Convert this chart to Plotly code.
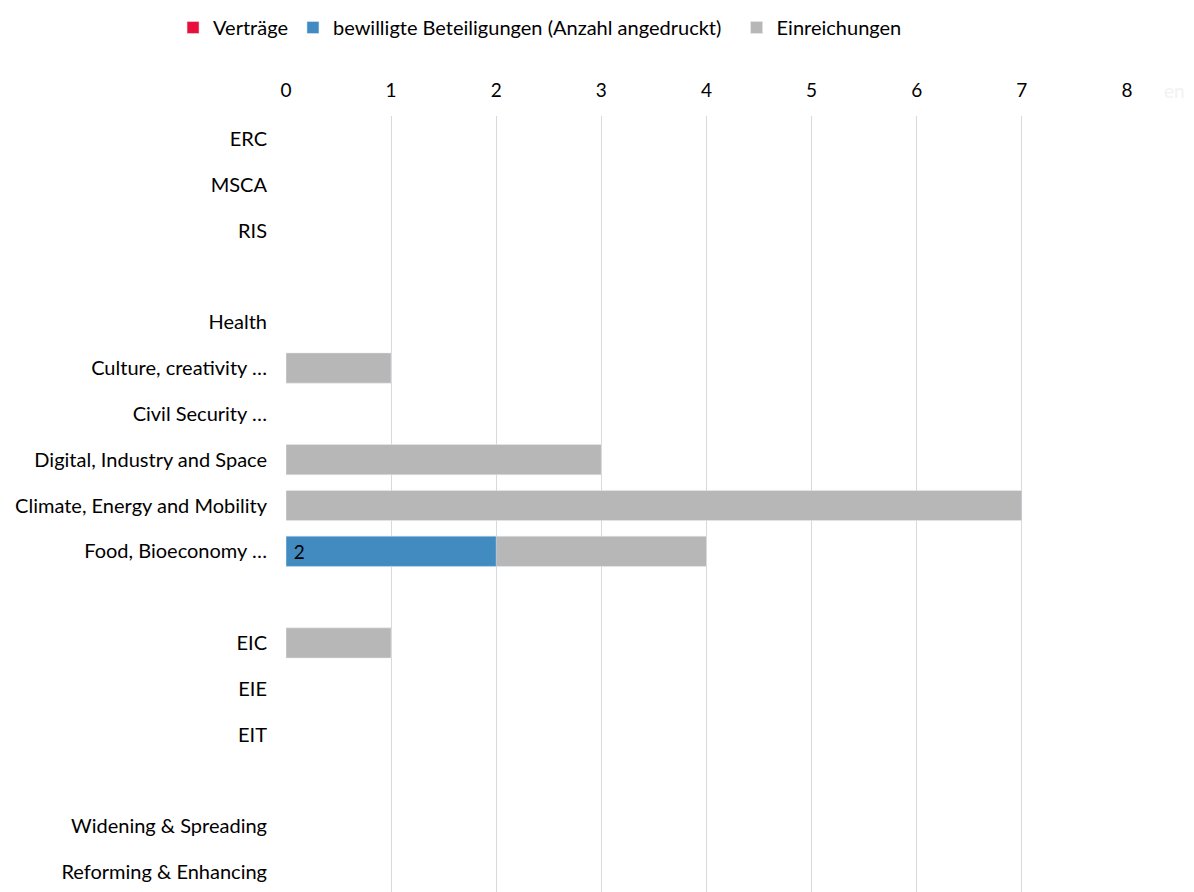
import plotly.graph_objects as go

categories = ["ERC", "MSCA", "RIS", " ", "Health", "Culture, creativity …", "Civil Security …",
              "Digital, Industry and Space", "Climate, Energy and Mobility", "Food, Bioeconomy …",
              "  ", "EIC", "EIE", "EIT", "   ", "Widening & Spreading", "Reforming & Enhancing"]
einreichungen = [None, None, None, None, None, 1, None, 3, 7, 4, None, 1, None, None, None, None, None]
bewilligt = [None, None, None, None, None, None, None, None, None, 2, None, None, None, None, None, None, None]
vertraege = [None] * len(categories)
bewilligt_labels = ["" if v is None else " " + str(v) for v in bewilligt]
x_ticks = [0, 1, 2, 3, 4, 5, 6, 7, 8]

FONT = "Lato"
fig = go.Figure()
fig.add_trace(go.Bar(y=categories, x=einreichungen, orientation="h", name="Einreichungen",
                     marker=dict(color="#B7B7B7"), width=0.66, legendrank=3))
fig.add_trace(go.Bar(y=categories, x=bewilligt, orientation="h",
                     name="bewilligte Beteiligungen (Anzahl angedruckt)  ",
                     marker=dict(color="#428BC1"), width=0.66, legendrank=2,
                     text=bewilligt_labels, textposition="inside", insidetextanchor="start",
                     textfont=dict(color="black", size=19, family=FONT)))
fig.add_trace(go.Bar(y=categories, x=vertraege, orientation="h", name="Verträge",
                     marker=dict(color="#E8103A"), width=0.66, legendrank=1))

fig.update_layout(
    width=1194, height=892,
    margin=dict(l=278, r=75, t=108, b=5, autoexpand=False),
    barmode="overlay",
    plot_bgcolor="white", paper_bgcolor="white",
    font=dict(family=FONT, size=20, color="#000000"),
    legend=dict(orientation="h", x=0.4456, xanchor="center", xref="container",
                y=1.0, yanchor="top", yref="container",
                font=dict(size=20, family=FONT), itemwidth=30,
                traceorder="normal"),
    showlegend=True,
)
fig.update_xaxes(side="top", range=[0, 8], tickvals=x_ticks, showgrid=True,
                 gridcolor="#D9D9D9", gridwidth=1, zeroline=False, showline=False,
                 ticks="", ticklabelstandoff=14, tickfont=dict(size=19, family=FONT))
fig.update_yaxes(categoryorder="array", categoryarray=categories, autorange="reversed",
                 showgrid=False, zeroline=False, showline=False, ticks="",
                 ticklabelstandoff=18, tickfont=dict(size=20, family=FONT))
fig.add_annotation(text="en", xref="paper", yref="paper", x=1.057, y=1.0, yshift=26,
                   xanchor="center", yanchor="middle", showarrow=False,
                   font=dict(size=19, color="#F2F2F2", family=FONT))

fig.write_html("out.html")
